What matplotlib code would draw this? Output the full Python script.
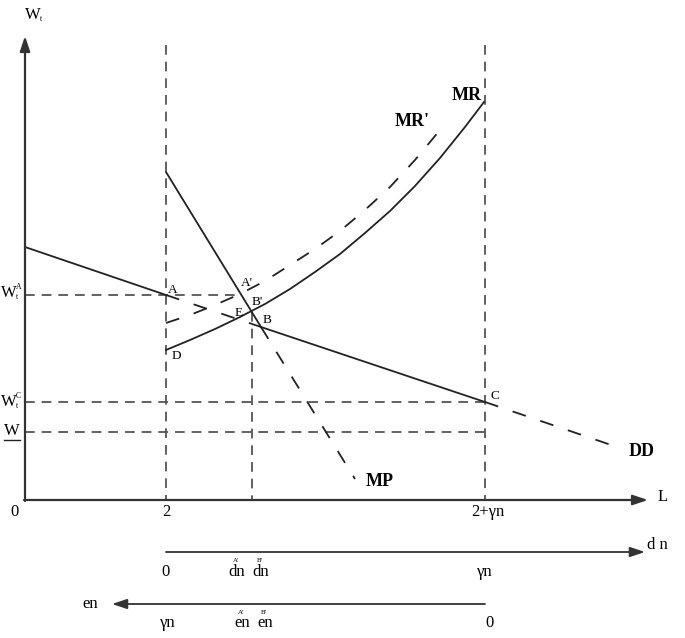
import matplotlib.pyplot as plt

plt.rcParams['font.family'] = 'Liberation Serif'
plt.rcParams['lines.scale_dashes'] = False

# diagram coordinates (screen-like, y grows downward)
x_origin, y_origin = 25, 500
x_two = 166          # L = 2
x_two_gn = 485       # L = 2 + γn
x_b = 252            # B' / dn^B'

# DD labour demand line (A, B, C on it)
dd_x = [25, 166, 261, 485, 620]
dd_y = [247, 295, 327, 402, 448]

# kinked steep line and its MP continuation
steep_x = [166, 261]
steep_y = [172, 327]
mp_x = [261, 355]
mp_y = [327, 479]

# MR and MR' curves
mr_x = [166, 190, 215, 240, 265, 290, 315, 340, 365, 390, 415, 440, 465, 484]
mr_y = [350, 340, 329, 317, 304, 289, 272, 254, 233, 211, 186, 158, 127, 102]
mrp_x = [166, 190, 215, 240, 265, 290, 315, 340, 365, 390, 415, 440]
mrp_y = [323, 315, 305, 294, 281, 265, 249, 231, 210, 187, 160, 130]

# wage levels
w_a, w_c, w_bar = 295, 402, 432

fig = plt.figure(figsize=(6.85, 6.38), dpi=100)
ax = fig.add_axes([0, 0, 1, 1])
ax.set_xlim(0, 685)
ax.set_ylim(638, 0)
ax.axis('off')

ink = '#222222'
guide = '#555555'
gd = (7, 5)
cd = (10, 11)

# guide lines
ax.plot([x_two, x_two], [45, y_origin], color=guide, lw=1.3, dashes=gd)
ax.plot([x_two_gn, x_two_gn], [45, y_origin], color=guide, lw=1.3, dashes=gd)
ax.plot([x_b, x_b], [312, y_origin], color=guide, lw=1.3, dashes=gd)
ax.plot([x_origin, 241], [w_a, w_a], color=guide, lw=1.3, dashes=gd)
ax.plot([x_origin, x_two_gn], [w_c, w_c], color=guide, lw=1.3, dashes=gd)
ax.plot([x_origin, x_two_gn], [w_bar, w_bar], color=guide, lw=1.3, dashes=gd)

# DD: solid / dashed pieces
ax.plot(dd_x[0:2], dd_y[0:2], color=ink, lw=1.3)
ax.plot(dd_x[1:3], dd_y[1:3], color=ink, lw=1.3, dashes=cd)
ax.plot(dd_x[2:4], dd_y[2:4], color=ink, lw=1.3)
ax.plot(dd_x[3:5], dd_y[3:5], color=ink, lw=1.3, dashes=cd)

ax.plot(steep_x, steep_y, color=ink, lw=1.3)
ax.plot(mp_x, mp_y, color=ink, lw=1.3, dashes=cd)

ax.plot(mr_x, mr_y, color=ink, lw=1.3, solid_joinstyle='round')
ax.plot(mrp_x, mrp_y, color=ink, lw=1.3, dashes=cd)

# axes with arrows
arr = dict(arrowstyle='-|>,head_length=0.9,head_width=0.3', color='#333333',
           lw=1.6, shrinkA=0, shrinkB=0)
ax.annotate('', xy=(x_origin, 36), xytext=(x_origin, y_origin + 1), arrowprops=arr)
ax.annotate('', xy=(648, y_origin), xytext=(x_origin - 1, y_origin), arrowprops=arr)
arr2 = dict(arr, lw=1.3)
ax.annotate('', xy=(645, 552), xytext=(x_two, 552), arrowprops=arr2)
ax.annotate('', xy=(112, 604), xytext=(x_two_gn, 604), arrowprops=arr2)

# axis texts
fs = 12
small = dict(fontsize=5.5, ha='left', va='center')
ax.text(33, 15, 'W', fontsize=fs, ha='center', va='center')
ax.text(40, 19, 't', **small)
for yc, tag in [(293, 'A'), (402, 'C')]:
    ax.text(9, yc, 'W', fontsize=fs, ha='center', va='center')
    ax.text(16, yc + 4, 't', **small)
    ax.text(16, yc - 6, tag, **small)
ax.text(12, 431, 'W', fontsize=fs, ha='center', va='center')
ax.plot([4, 20], [440, 440], color=ink, lw=1.0)  # underline of W
ax.text(15, 512, '0', fontsize=fs, ha='center', va='center')
ax.text(x_two, 512, '2', fontsize=fs, ha='center', va='center')
ax.text(488, 512, '2+γn', fontsize=fs, ha='center', va='center')
ax.text(663, 497, 'L', fontsize=fs, ha='center', va='center')

ax.text(657, 545, 'd n', fontsize=fs, ha='center', va='center')
ax.text(x_two, 572, '0', fontsize=fs, ha='center', va='center')
ax.text(x_two_gn, 572, 'γn', fontsize=fs, ha='center', va='center')
for xc, tag in [(237, "A'"), (261, "B'")]:
    ax.text(xc, 572, 'dn', fontsize=fs, ha='center', va='center')
    ax.text(xc - 1, 561, tag, fontsize=5, ha='center', va='center')

ax.text(90, 604, 'en', fontsize=fs, ha='center', va='center')
ax.text(168, 623, 'γn', fontsize=fs, ha='center', va='center')
ax.text(490, 623, '0', fontsize=fs, ha='center', va='center')
for xc, tag in [(242, "A'"), (265, "B'")]:
    ax.text(xc, 623, 'en', fontsize=fs, ha='center', va='center')
    ax.text(xc - 1, 612, tag, fontsize=5, ha='center', va='center')

# curve names
bold = dict(fontsize=13, fontweight='bold', ha='center', va='center')
ax.text(467, 95, 'MR', **bold)
ax.text(412, 122, "MR'", **bold)
ax.text(642, 452, 'DD', **bold)
ax.text(380, 482, 'MP', **bold)

# point names
pt = dict(fontsize=9.5, ha='center', va='center')
ax.text(173, 290, 'A', **pt)
ax.text(247, 283, "A'", **pt)
ax.text(257, 302, "B'", **pt)
ax.text(239, 313, 'E', **pt)
ax.text(267, 320, 'B', **pt)
ax.text(176, 356, 'D', **pt)
ax.text(495, 396, 'C', **pt)

fig.savefig('out.png', dpi=100)
